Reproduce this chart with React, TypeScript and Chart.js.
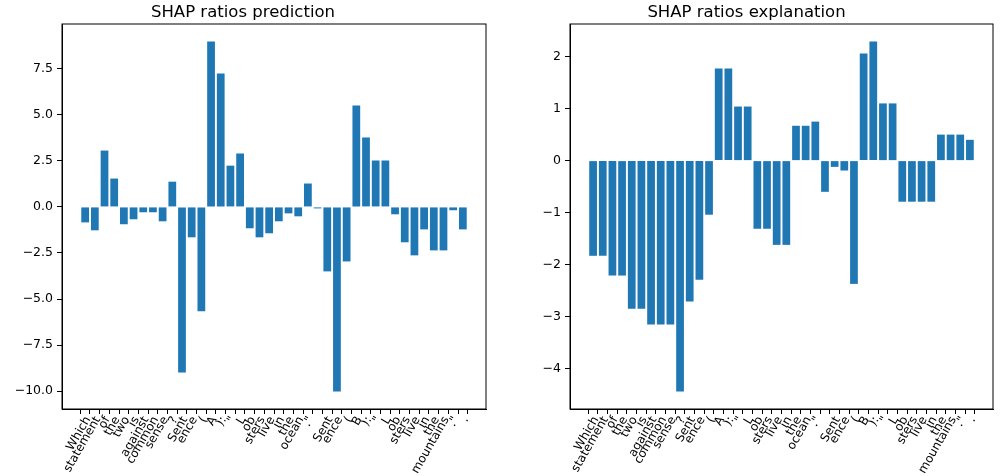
import React, { useEffect, useRef } from 'react';
import { Chart, registerables } from 'chart.js';

Chart.register(...registerables);

const tokens = [
  'Which', 'statement', 'of', 'the', 'two', 'is', 'against', 'common', 'sense', '?',
  'Sent', 'ence', '(', 'A', '):', '"', 'L', 'ob', 'sters', 'live',
  'in', 'the', 'ocean', '."', '', 'Sent', 'ence', '(', 'B', '):',
  '"', 'L', 'ob', 'sters', 'live', 'in', 'the', 'mountains', '."', '.',
];

const predictionValues = [
  -0.84, -1.27, 3.06, 1.54, -0.94, -0.67, -0.29, -0.29, -0.78, 1.37,
  -8.99, -1.65, -5.67, 8.98, 7.24, 2.24, 2.9, -1.16, -1.65, -1.43,
  -0.78, -0.35, -0.51, 1.27, -0.08, -3.5, -10.02, -2.96, 5.5, 3.77,
  2.52, 2.52, -0.4, -1.92, -2.63, -1.22, -2.36, -2.36, -0.18, -1.22,
];

const explanationValues = [
  -1.83, -1.83, -2.21, -2.21, -2.85, -2.85, -3.15, -3.15, -3.15, -4.44,
  -2.71, -2.29, -1.04, 1.77, 1.77, 1.04, 1.04, -1.31, -1.31, -1.62,
  -1.62, 0.67, 0.67, 0.75, -0.6, -0.12, -0.19, -2.37, 2.06, 2.29,
  1.1, 1.1, -0.79, -0.79, -0.79, -0.79, 0.5, 0.5, 0.5, 0.4,
];

const predictionTicks = [-10, -7.5, -5, -2.5, 0, 2.5, 5, 7.5];
const explanationTicks = [-4, -3, -2, -1, 0, 1, 2];

const FONT = "'DejaVu Sans', sans-serif";

const framePlugin = {
  id: 'frame',
  beforeDraw(chart: any) {
    const sx = chart.scales.x;
    if (!sx) return;
    const items = sx.getLabelItems(chart.chartArea);
    items.forEach((it: any) => {
      if (!it.__shifted && it.options && it.options.translation) {
        it.options.translation[0] += 3;
        it.__shifted = true;
      }
    });
  },
  afterDraw(chart: any) {
    const { ctx, chartArea } = chart;
    const { left, top, right, bottom } = chartArea;
    ctx.save();
    ctx.strokeStyle = '#000';
    ctx.lineWidth = 1;
    ctx.strokeRect(left, top, right - left, bottom - top);
    ctx.restore();
  },
};

type PanelProps = {
  title: string;
  values: number[];
  yTicks: number[];
  yMin: number;
  yMax: number;
  decimals: number;
  left: number;
  width: number;
  yAxisWidth: number;
  rightPad: number;
};

function Panel(p: PanelProps) {
  const ref = useRef<HTMLCanvasElement | null>(null);
  useEffect(() => {
    if (!ref.current) return;
    const fmt = (v: number) => {
      const s = p.decimals > 0 ? v.toFixed(p.decimals) : String(Math.round(v));
      return s.replace('-', '\u2212');
    };
    const chart = new Chart(ref.current, {
      type: 'bar',
      data: {
        datasets: [
          {
            data: p.values.map((v, i) => ({ x: i, y: v })),
            backgroundColor: '#1f77b4',
            borderWidth: 0,
            barPercentage: 0.8,
            categoryPercentage: 1,
          },
        ],
      },
      options: {
        animation: false,
        responsive: false,
        layout: { padding: { left: 0, right: p.rightPad, top: 0, bottom: 0 } },
        plugins: {
          legend: { display: false },
          tooltip: { enabled: false },
          title: {
            display: true,
            text: p.title,
            color: '#000',
            font: { family: FONT, size: 16.5, weight: 'normal' as any, lineHeight: 1.2 },
            padding: { top: 3, bottom: 1.2 },
          },
        },
        scales: {
          x: {
            type: 'linear',
            min: -2.39,
            max: 41.39,
            offset: false,
            grid: { drawOnChartArea: false, drawTicks: true, tickLength: 5, color: '#000' },
            border: { display: true, color: '#000', width: 1 },
            afterBuildTicks: (scale: any) => {
              scale.ticks = tokens.map((_, i) => ({ value: i }));
            },
            afterFit: (scale: any) => {
              scale.height = 67;
            },
            ticks: {
              autoSkip: false,
              minRotation: 60,
              maxRotation: 60,
              padding: 0,
              color: '#000',
              font: { family: FONT, size: 12 },
              callback: (v: any) => tokens[v as number] ?? '',
            },
          },
          y: {
            type: 'linear',
            min: p.yMin,
            max: p.yMax,
            grid: { drawOnChartArea: false, drawTicks: true, tickLength: 5, color: '#000' },
            border: { display: true, color: '#000', width: 1 },
            afterBuildTicks: (scale: any) => {
              scale.ticks = p.yTicks.map((v) => ({ value: v }));
            },
            afterFit: (scale: any) => {
              scale.width = p.yAxisWidth;
            },
            ticks: {
              padding: 4,
              color: '#000',
              font: { family: FONT, size: 12.5 },
              callback: (v: any) => fmt(v as number),
            },
          },
        },
      },
      plugins: [framePlugin],
    });
    return () => chart.destroy();
  }, []);
  return (
    <canvas
      ref={ref}
      width={p.width}
      height={476}
      style={{ position: 'absolute', left: p.left, top: 0, width: p.width, height: 476 }}
    />
  );
}

export default function App() {
  useEffect(() => {
    document.body.style.margin = '0';
  }, []);
  return (
    <div style={{ position: 'relative', width: 1002, height: 476, background: '#fff', overflow: 'hidden' }}>
      <Panel
        title="SHAP ratios prediction"
        values={predictionValues}
        yTicks={predictionTicks}
        yMin={-10.97}
        yMax={9.93}
        decimals={1}
        left={0}
        width={500}
        yAxisWidth={62}
        rightPad={14}
      />
      <Panel
        title="SHAP ratios explanation"
        values={explanationValues}
        yTicks={explanationTicks}
        yMin={-4.776}
        yMax={2.627}
        decimals={0}
        left={500}
        width={502}
        yAxisWidth={70}
        rightPad={9}
      />
    </div>
  );
}
